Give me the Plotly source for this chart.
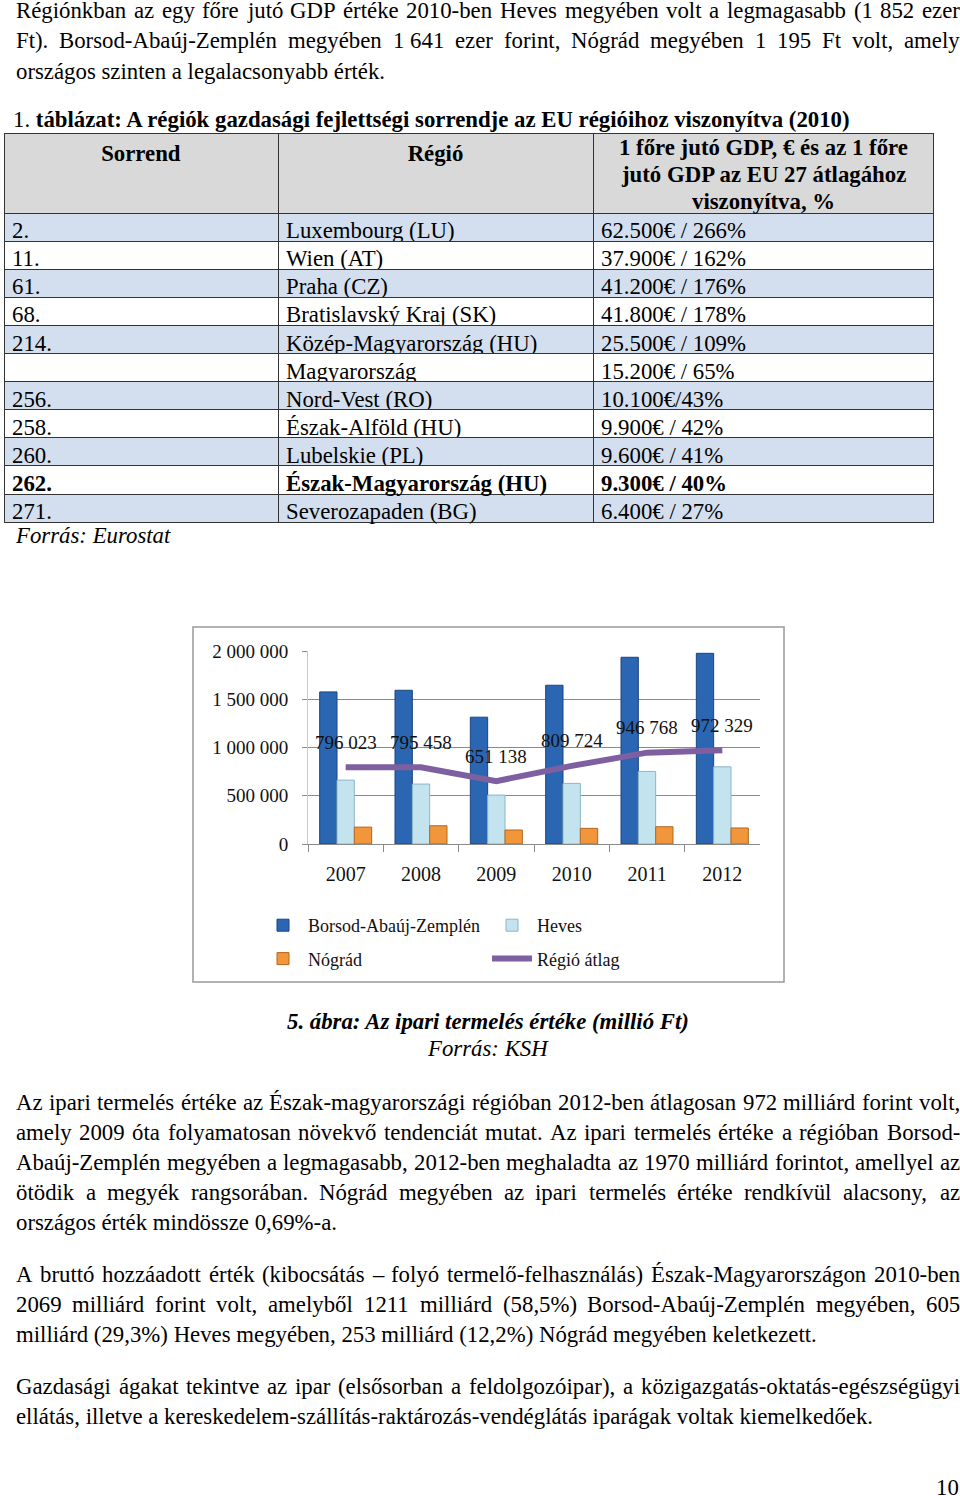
import plotly.graph_objects as go

# ---------------- chart data ----------------
years = ["2007", "2008", "2009", "2010", "2011", "2012"]
borsod = [1576000, 1593000, 1314000, 1645000, 1935000, 1976000]
heves = [662000, 621000, 507000, 628000, 752000, 800000]
nograd = [175000, 189000, 145000, 162000, 179000, 166000]
regio_atlag = [796023, 795458, 651138, 809724, 946768, 972329]
y_tick_vals = [0, 500000, 1000000, 1500000, 2000000]
y_tick_text = ["0", "500 000", "1 000 000", "1 500 000", "2 000 000"]
series_names = ["Borsod-Abaúj-Zemplén", "Heves", "Nógrád", "Régió átlag"]

# ---------------- table data ----------------
tbl_header = ["<b>Sorrend</b>", "<b>Régió</b>", ""]
tbl_header_col3 = ["1 főre jutó GDP, € és az 1 főre", "jutó GDP az EU 27 átlagához", "viszonyítva, %"]
tbl_rank = ["2.", "11.", "61.", "68.", "214.", "", "256.", "258.", "260.", "262.", "271."]
tbl_region = ["Luxembourg (LU)", "Wien (AT)", "Praha (CZ)", "Bratislavský Kraj (SK)",
              "Közép-Magyarország (HU)", "Magyarország", "Nord-Vest (RO)", "Észak-Alföld (HU)",
              "Lubelskie (PL)", "Észak-Magyarország (HU)", "Severozapaden (BG)"]
tbl_gdp = ["62.500€ / 266%", "37.900€ / 162%", "41.200€ / 176%", "41.800€ / 178%",
           "25.500€ / 109%", "15.200€ / 65%", "10.100€/43%", "9.900€ / 42%",
           "9.600€ / 41%", "9.300€ / 40%", "6.400€ / 27%"]
tbl_bold_row = [False, False, False, False, False, False, False, False, False, True, False]

# ---------------- page text ----------------
para_top = ["Régiónkban az egy főre jutó GDP értéke 2010-ben Heves megyében volt a legmagasabb (1 852 ezer",
            "Ft). Borsod-Abaúj-Zemplén megyében 1\u00a0641 ezer forint, Nógrád megyében 1 195 Ft volt, amely",
            "országos szinten a legalacsonyabb érték."]
para1 = ["Az ipari termelés értéke az Észak-magyarországi régióban 2012-ben átlagosan 972 milliárd forint volt,",
         "amely 2009 óta folyamatosan növekvő tendenciát mutat. Az ipari termelés értéke a régióban Borsod-",
         "Abaúj-Zemplén megyében a legmagasabb, 2012-ben meghaladta az 1970 milliárd forintot, amellyel az",
         "ötödik a megyék rangsorában. Nógrád megyében az ipari termelés értéke rendkívül alacsony, az",
         "országos érték mindössze 0,69%-a."]
para2 = ["A bruttó hozzáadott érték (kibocsátás – folyó termelő-felhasználás) Észak-Magyarországon 2010-ben",
         "2069 milliárd forint volt, amelyből 1211 milliárd (58,5%) Borsod-Abaúj-Zemplén megyében, 605",
         "milliárd (29,3%) Heves megyében, 253 milliárd (12,2%) Nógrád megyében keletkezett."]
para3 = ["Gazdasági ágakat tekintve az ipar (elsősorban a feldolgozóipar), a közigazgatás-oktatás-egészségügyi",
         "ellátás, illetve a kereskedelem-szállítás-raktározás-vendéglátás iparágak voltak kiemelkedőek."]
table_title = "1. <b>táblázat: A régiók gazdasági fejlettségi sorrendje az EU régióihoz viszonyítva (2010)</b>"
table_source = "<i>Forrás: Eurostat</i>"
fig_caption = "<b><i>5. ábra: Az ipari termelés értéke (millió Ft)</i></b>"
fig_source = "<i>Forrás: KSH</i>"
page_no = "10"

W_PAGE, H_PAGE = 960, 1496
SERIF = "Liberation Serif, Times New Roman, serif"
FS = 22.8


def px(x):
    return x / W_PAGE


def py(y):
    return 1 - y / H_PAGE


# Times-Roman advance widths (per 1000 em)
_w = {' ': 250, '\u00a0': 250, '(': 333, ')': 333, ',': 250, '.': 250, '-': 333, '–': 500,
      '%': 833, ':': 278, ';': 278, '€': 500, '/': 278,
      'A': 722, 'B': 667, 'C': 667, 'D': 722, 'E': 611, 'F': 556, 'G': 722, 'H': 722, 'I': 333,
      'J': 389, 'K': 722, 'L': 611, 'M': 889, 'N': 722, 'O': 722, 'P': 556, 'Q': 722, 'R': 667,
      'S': 556, 'T': 611, 'U': 722, 'V': 722, 'W': 944, 'X': 722, 'Y': 722, 'Z': 611,
      'a': 444, 'b': 500, 'c': 444, 'd': 500, 'e': 444, 'f': 333, 'g': 500, 'h': 500, 'i': 278,
      'j': 278, 'k': 500, 'l': 278, 'm': 778, 'n': 500, 'o': 500, 'p': 500, 'q': 500, 'r': 333,
      's': 389, 't': 278, 'u': 500, 'v': 500, 'w': 722, 'x': 500, 'y': 500, 'z': 444,
      'á': 444, 'é': 444, 'í': 278, 'ó': 500, 'ö': 500, 'ő': 500, 'ú': 500, 'ü': 500, 'ű': 500,
      'É': 611, 'Á': 722, 'Ó': 722, 'Ö': 722, 'Ő': 722, 'Ú': 722, 'Ü': 722, 'Í': 333}


def tw(s, size=FS):
    return sum(_w.get(c, 500) for c in s) / 1000 * size


annotations = []


def add_text(text, x, y, xanchor="left", size=FS, color="#000"):
    annotations.append(dict(text=text, x=px(x), y=py(y), xref="paper", yref="paper",
                            xanchor=xanchor, yanchor="middle", showarrow=False,
                            borderpad=0, font=dict(family=SERIF, size=size, color=color)))


def add_paragraph(lines, y0, left=15, right=959, step=30):
    for i, line in enumerate(lines):
        y = y0 + i * step
        if i == len(lines) - 1:
            add_text(line, left, y)
            continue
        words = line.split(' ')
        total = sum(tw(w) for w in words)
        gap = (right - left - total) / (len(words) - 1)
        x = left
        for w in words:
            add_text(w, x, y)
            x += tw(w) + gap


add_paragraph(para_top, 11)
add_paragraph(para1, 1102)
add_paragraph(para2, 1274)
add_paragraph(para3, 1386)
add_text(table_title, 12, 120)
for i, t in enumerate(tbl_header_col3):
    add_text("<b>" + t + "</b>", 763, 148 + i * 26.5, xanchor="center")
add_text(table_source, 14, 535)
add_text(fig_caption, 488, 1022, xanchor="center")
add_text(fig_source, 488, 1048, xanchor="center")
add_text(page_no, 960, 1487, xanchor="right")

# data labels of the average line (category axis: serial index of each year)
for i, v in enumerate(regio_atlag):
    annotations.append(dict(text=f"{v:,}".replace(",", " "), x=i, y=v, xref="x", yref="y",
                            showarrow=False, yanchor="middle", yshift=25,
                            font=dict(family=SERIF, size=19, color="#111")))

fig = go.Figure()

fig.add_trace(go.Bar(x=years, y=borsod, name=series_names[0], legend="legend", legendgroup="a",
                     marker=dict(color="#2a66b1", line=dict(color="#1b4580", width=1))))
fig.add_trace(go.Bar(x=years, y=heves, name=series_names[1], legend="legend2", legendgroup="b",
                     marker=dict(color="#c3e3ee", line=dict(color="#8db6c6", width=1))))
fig.add_trace(go.Bar(x=years, y=nograd, name=series_names[2], legend="legend", legendgroup="c",
                     marker=dict(color="#f1963a", line=dict(color="#b5661b", width=1))))
fig.add_trace(go.Scatter(x=years, y=regio_atlag, name=series_names[3], legend="legend2",
                         legendgroup="d", mode="lines",
                         line=dict(color="#7e5fa0", width=6)))

# table: regular-weight text layer + bold text layer (same geometry)
row_fill = ["#d3dfee" if i % 2 == 0 else "#ffffff" for i in range(len(tbl_rank))]
cols = [tbl_rank, tbl_region, tbl_gdp]
regular_cols = [[("" if b else v) for v, b in zip(c, tbl_bold_row)] for c in cols]
bold_cols = [[(v if b else "") for v, b in zip(c, tbl_bold_row)] for c in cols]
tbl_domain = dict(x=[px(4), px(933)], y=[py(528), py(133)])
ROW_H = 28.1
HEAD_H = 80
fig.add_trace(go.Table(
    domain=tbl_domain, columnwidth=[274, 315, 340],
    header=dict(values=tbl_header, fill_color="#d9d9d9", align="center", height=HEAD_H,
                line=dict(color="#333333", width=1),
                font=dict(family=SERIF, size=FS, color="#000")),
    cells=dict(values=regular_cols, fill_color=[row_fill] * 3,
               align="left", height=ROW_H, line=dict(color="#333333", width=1),
               font=dict(family=SERIF, size=FS, color="#000")),
))
fig.add_trace(go.Table(
    domain=tbl_domain, columnwidth=[274, 315, 340],
    header=dict(values=["", "", ""], fill_color="rgba(0,0,0,0)", height=HEAD_H,
                line=dict(color="rgba(0,0,0,0)", width=0),
                font=dict(family=SERIF, size=FS, color="#000")),
    cells=dict(values=bold_cols, fill_color="rgba(0,0,0,0)",
               align="left", height=ROW_H, line=dict(color="rgba(0,0,0,0)", width=0),
               font=dict(family=SERIF, size=FS, color="#000", weight="bold")),
))

legend_common = dict(orientation="v", xanchor="left", yanchor="top", bgcolor="rgba(0,0,0,0)",
                     font=dict(family=SERIF, size=18, color="#111"), tracegroupgap=7,
                     itemwidth=40)

fig.update_layout(
    width=W_PAGE, height=H_PAGE, autosize=False,
    margin=dict(l=0, r=0, t=0, b=0, pad=0, autoexpand=False),
    paper_bgcolor="white", plot_bgcolor="white",
    barmode="group", bargap=0.31, bargroupgap=0,
    showlegend=True,
    legend=dict(x=px(258), y=py(907), **legend_common),
    legend2=dict(x=px(487), y=py(907), **legend_common),
    xaxis=dict(domain=[px(308), px(760)], type="category", showline=True, linecolor="#8a8a8a",
               linewidth=1, ticks="outside", tickson="boundaries", ticklen=7,
               tickcolor="#8a8a8a", showgrid=False, automargin=False, ticklabelstandoff=12,
               tickfont=dict(family=SERIF, size=20, color="#111")),
    yaxis=dict(domain=[py(844), py(651)], range=[0, 2000000], tickvals=y_tick_vals,
               ticktext=y_tick_text, showgrid=True, gridcolor="#8a8a8a", gridwidth=1,
               showline=True, linecolor="#c8c8c8", ticks="outside", ticklen=5,
               tickcolor="#8a8a8a", zeroline=False, automargin=False, ticklabelstandoff=10,
               tickfont=dict(family=SERIF, size=19, color="#111")),
    annotations=annotations,
    shapes=[dict(type="rect", xref="paper", yref="paper", x0=px(193), x1=px(784),
                 y0=py(982), y1=py(627), line=dict(color="#999999", width=1.5))],
)

fig.write_html("out.html", config={"displayModeBar": False},
               post_script="document.body.style.margin='0px';document.body.style.overflow='hidden';")
